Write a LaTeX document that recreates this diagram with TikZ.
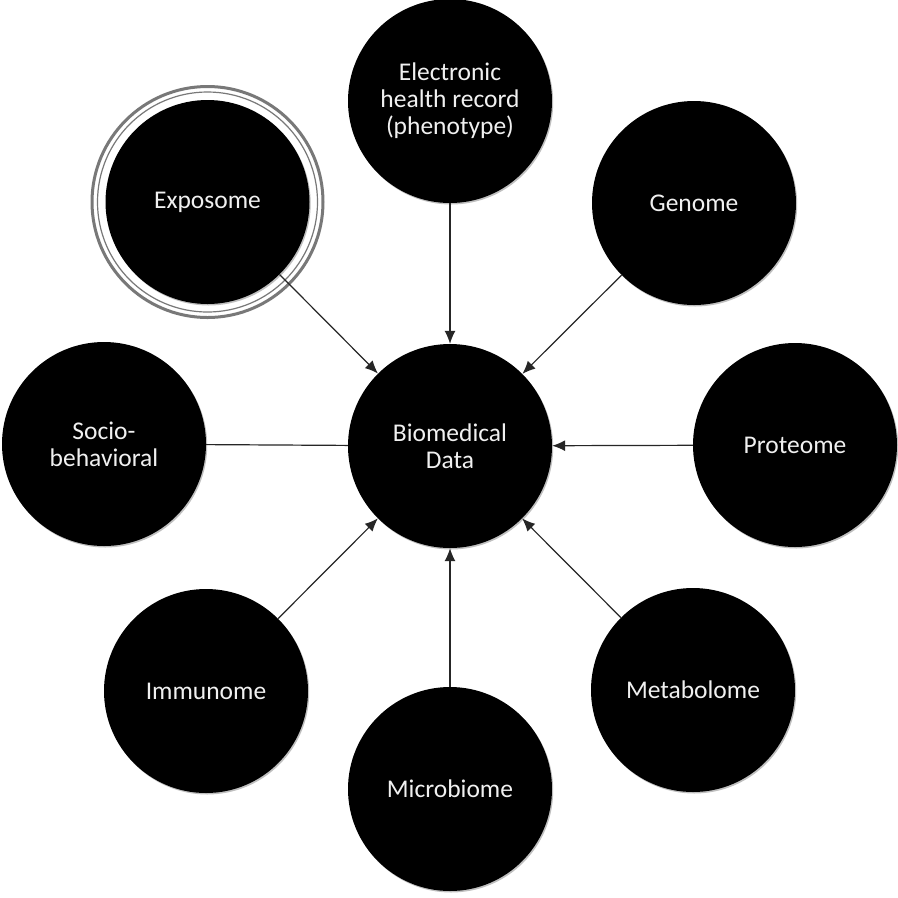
\documentclass[tikz,border=0pt]{standalone}
\usepackage{fontspec}
\setmainfont{Carlito}
\usetikzlibrary{arrows.meta,shadows}

\definecolor{labelwhite}{RGB}{240,240,240}
\definecolor{ringgray}{RGB}{120,120,120}

\tikzset{
  omic/.style={circle, fill=black, minimum size=204pt, inner sep=0pt,
    text=labelwhite, align=center, font=\fontsize{25.5}{27}\selectfont,
    drop shadow={shadow xshift=1.2pt, shadow yshift=-1.5pt, opacity=0.25, fill=black}},
  conn/.style={draw=black!85, line width=1.2pt},
  feed/.style={conn, -{Latex[length=13pt,width=11pt]}},
  ring/.style={draw=ringgray}
}

\begin{document}
\begin{tikzpicture}[x=1pt,y=-1pt]
  \fill[white] (0,0) rectangle (898,898);
  \useasboundingbox (0,0) rectangle (898,898);

  % outer ring around the exposome circle
  \draw[ring, line width=3pt] (207.5,202) circle (115.5);
  \draw[ring, line width=1.2pt] (207.5,202) circle (110);

  % central node and the eight data sources
  \node[omic] (bio)   at (450,446) {Biomedical\\Data};
  \node[omic] (ehr)   at (450,101) {Electronic\\health record\\(phenotype)};
  \node[omic] (gen)   at (694,203) {Genome};
  \node[omic] (prot)  at (795,445) {Proteome};
  \node[omic] (meta)  at (693,690) {Metabolome};
  \node[omic] (micro) at (450,789) {Microbiome};
  \node[omic] (imm)   at (206,691) {Immunome};
  \node[omic] (socio) at (104,444) {Socio-\\behavioral};
  \node[omic] (expo)  at (207.5,202) {Exposome};

  % connectors into the central node
  \draw[feed] (ehr) -- (bio);
  \draw[feed] (gen) -- (bio);
  \draw[feed] (prot) -- (bio);
  \draw[feed] (meta) -- (bio);
  \draw[feed] (micro) -- (bio);
  \draw[feed] (imm) -- (bio);
  \draw[conn] (socio) -- (bio);
  \draw[feed] (expo) -- (bio);
\end{tikzpicture}
\end{document}
